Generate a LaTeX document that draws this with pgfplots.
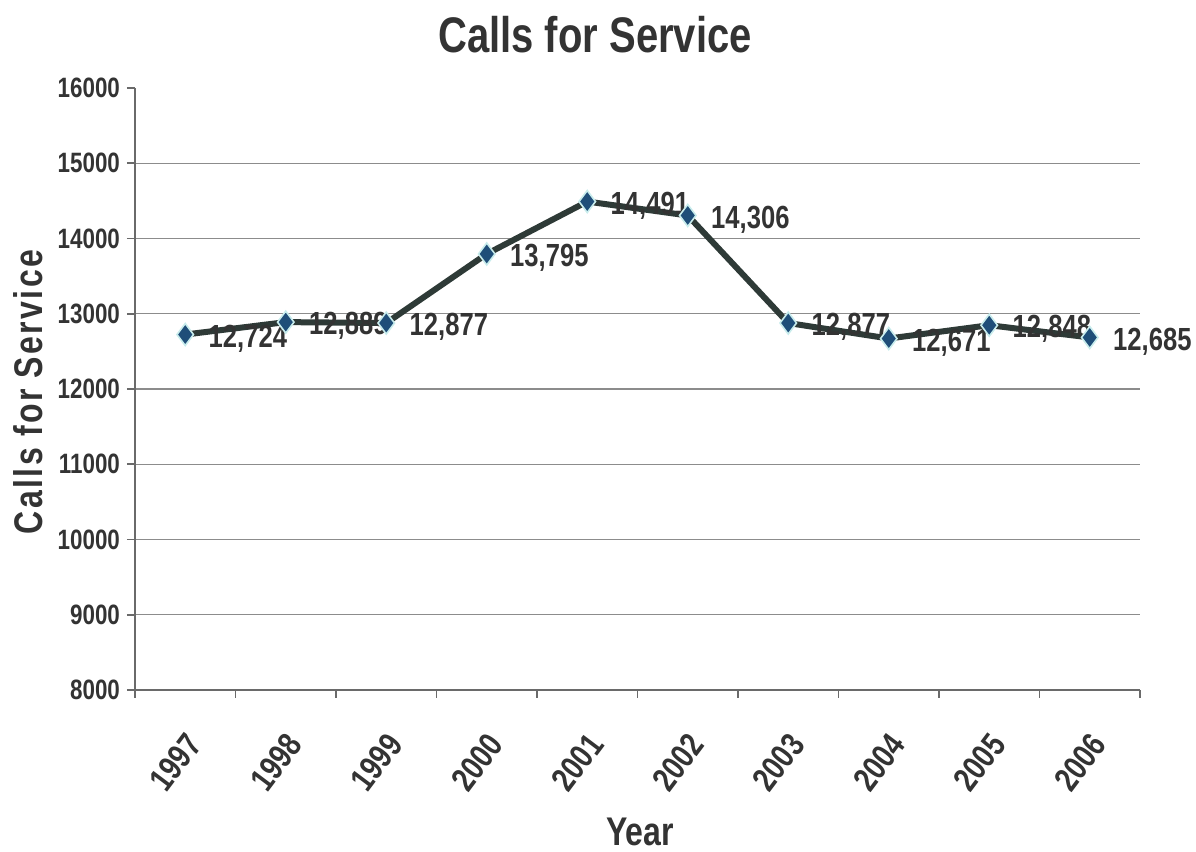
\documentclass[border=0pt]{standalone}
\usepackage{fontspec}
\setmainfont{Liberation Sans}
\newfontfamily\nb{Liberation Sans}[FakeStretch=0.8]
\newfontfamily\nbsp{Liberation Sans}[FakeStretch=0.8,LetterSpace=6]
\usepackage{pgfplots}
\pgfplotsset{compat=1.18}
\definecolor{textgray}{HTML}{333333}
\definecolor{gridgray}{HTML}{8C8C8C}
\definecolor{axisgray}{HTML}{6A6A6A}
\definecolor{linecol}{HTML}{2E3A37}
\definecolor{markblue}{HTML}{1F4E79}
\definecolor{markedge}{HTML}{C8ECEC}
\pgfplotstableread{
x y lab
0 12724 12,724
1 12889 12,889
2 12877 12,877
3 13795 13,795
4 14491 14,491
5 14306 14,306
6 12877 12,877
7 12671 12,671
8 12848 12,848
9 12685 12,685
}\calls
\begin{document}
\begin{tikzpicture}
\useasboundingbox (0,0) rectangle (598pt,426pt);
\begin{axis}[
  at={(67.5pt,81pt)}, anchor=south west,
  scale only axis, width=502.5pt, height=301pt,
  xmin=-0.5, xmax=9.5, ymin=8000, ymax=16000,
  axis x line=bottom, axis y line=left,
  axis line style={-, draw=axisgray, line width=0.8pt},
  tick align=outside,
  xtick={0,...,9},
  xticklabels={1997,1998,1999,2000,2001,2002,2003,2004,2005,2006},
  major x tick style={draw=none},
  minor xtick={-0.5,0.5,...,9.5},
  minor x tick style={draw=axisgray, line width=0.8pt},
  minor tick length=4pt,
  ytick={8000,9000,...,15000},
  extra y ticks={16000},
  extra y tick style={grid=none},
  ytick style={draw=axisgray, line width=0.8pt},
  major tick length=4pt,
  scaled y ticks=false,
  ymajorgrids,
  grid style={draw=gridgray, line width=0.6pt},
  /pgf/number format/1000 sep={},
  /pgf/number format/assume math mode=true,
  yticklabel style={font=\nb\bfseries\fontsize{14}{16}\selectfont, text=textgray},
  xticklabel style={font=\nb\bfseries\fontsize{17}{20}\selectfont, text=textgray,
    xshift=5pt, yshift=-19pt, rotate=53, anchor=east, inner sep=1pt},
  clip=false,
]
\addplot[color=linecol, line width=3pt,
  mark=diamond*, mark size=5.5pt,
  mark options={fill=markblue, draw=markedge, line width=0.8pt},
  nodes near coords,
  point meta=explicit symbolic,
  nodes near coords align={anchor=west},
  every node near coord/.append style={anchor=west, xshift=8pt, yshift=-2pt,
    font=\nb\bfseries\fontsize{16}{18}\selectfont, text=textgray},
] table[x=x, y=y, meta=lab] {\calls};
\end{axis}
\node[font=\nb\bfseries\fontsize{25}{30}\selectfont, text=textgray] at (297.5pt,408.5pt) {Calls for Service};
\node[rotate=90, font=\nbsp\bfseries\fontsize{20}{24}\selectfont, text=textgray] at (14pt,230pt) {Calls for Service};
\node[font=\nb\bfseries\fontsize{20}{24}\selectfont, text=textgray, inner sep=1pt] at (320pt,10pt) {Year};
\end{tikzpicture}
\end{document}
